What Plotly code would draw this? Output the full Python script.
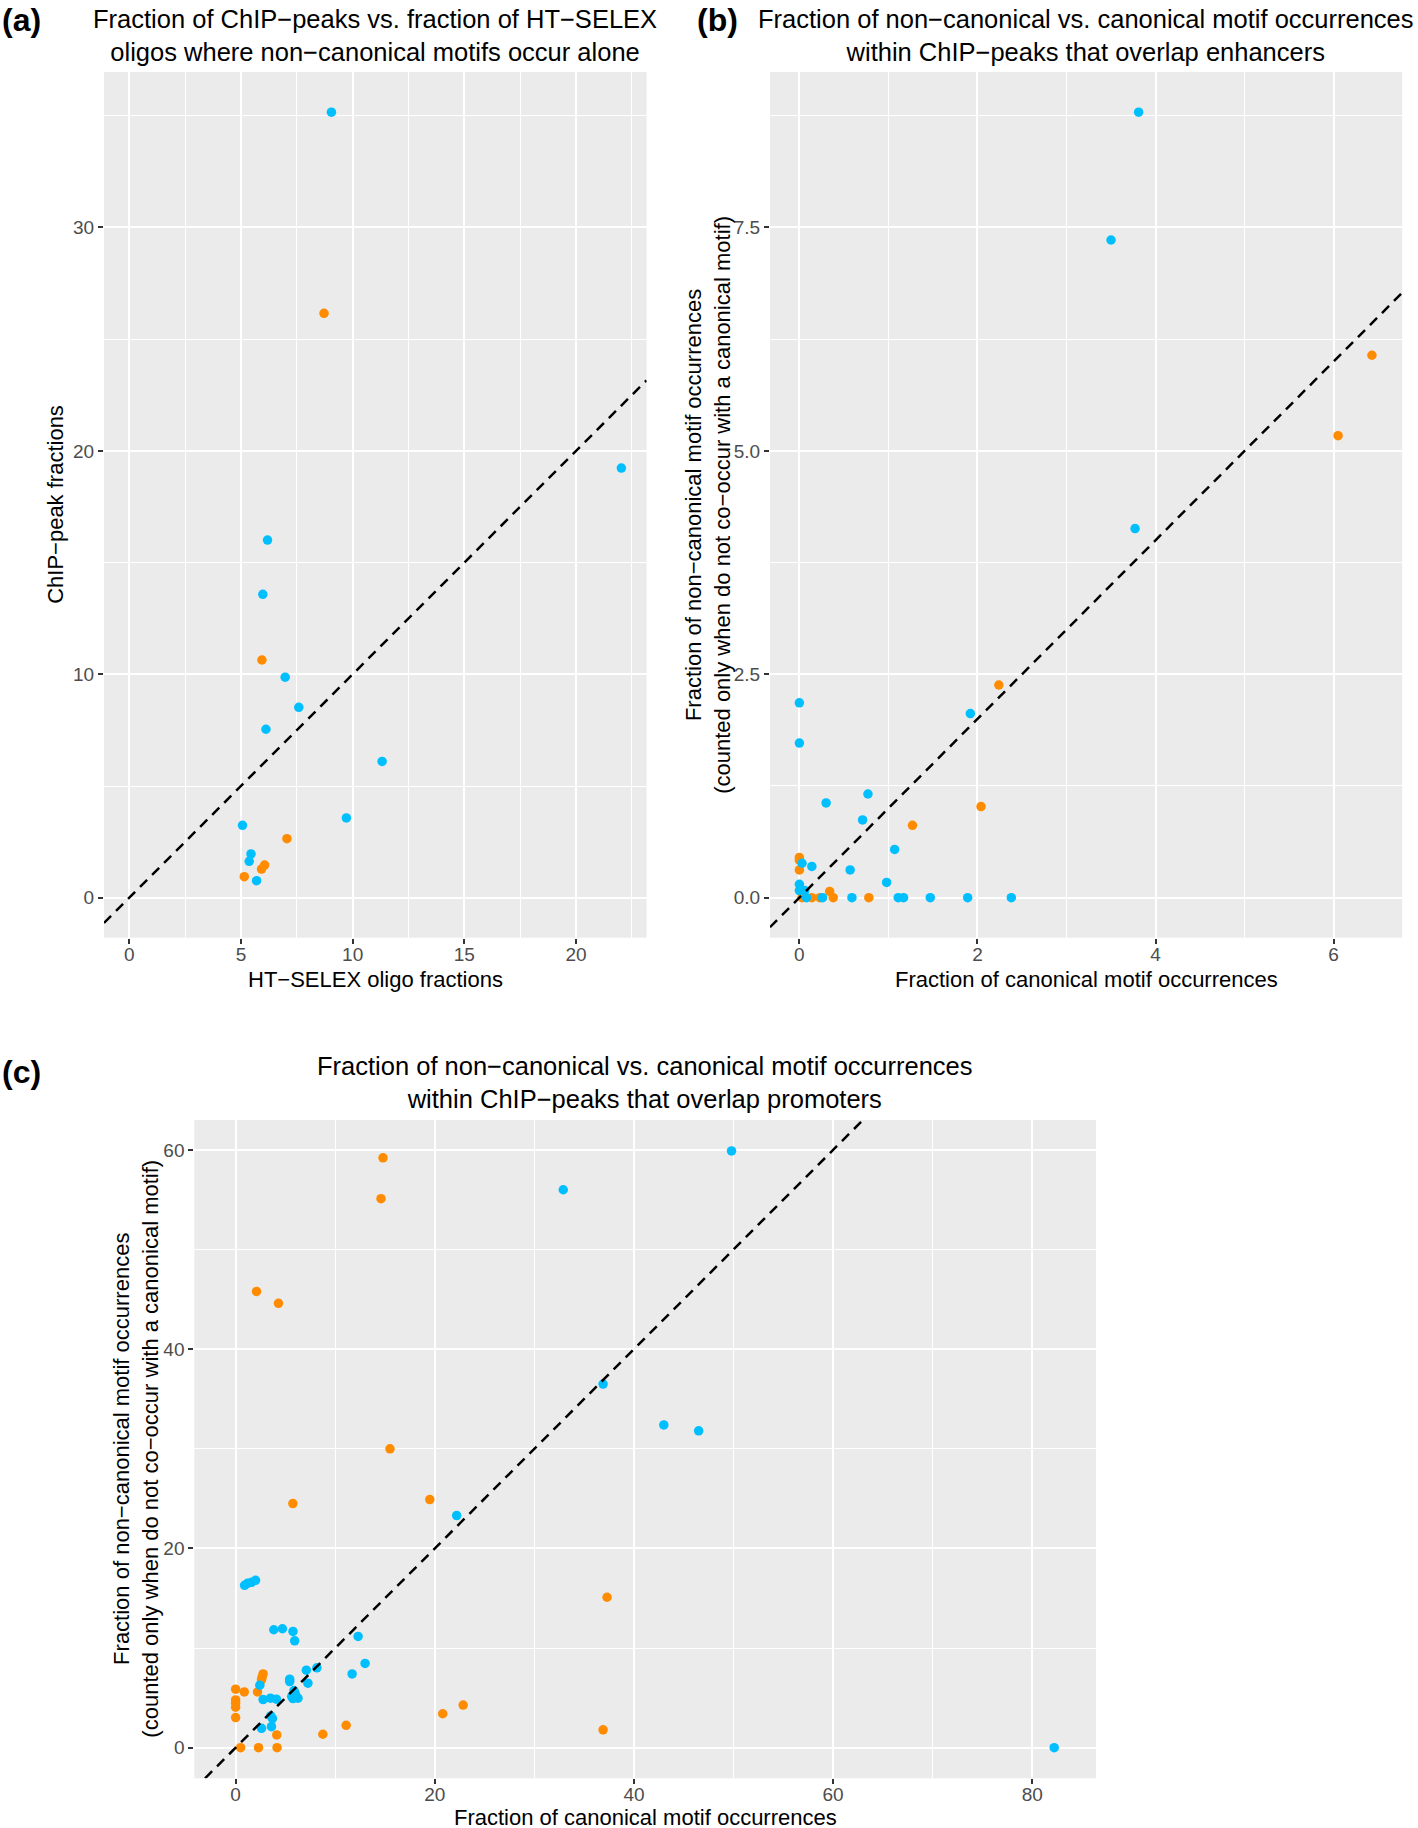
import plotly.graph_objects as go

W, H = 1418, 1828
FONT = "Liberation Sans, Arial, Helvetica, sans-serif"
BLUE = "#00BFFF"
ORANGE = "#FF8C00"

# ---------------- Panel (a) data ----------------
a_blue_x = [9.05, 22.03, 6.19, 5.98, 6.98, 7.59, 6.12, 11.32, 9.72, 5.07, 5.45, 5.37, 5.70]
a_blue_y = [35.16, 19.23, 16.01, 13.58, 9.87, 8.52, 7.54, 6.10, 3.57, 3.24, 1.96, 1.63, 0.76]
a_orange_x = [8.72, 5.94, 7.06, 6.06, 5.92, 5.15]
a_orange_y = [26.16, 10.64, 2.64, 1.46, 1.28, 0.94]

# ---------------- Panel (b) data ----------------
b_blue_x = [3.81, 3.50, 3.77, 1.92, 0.00, 0.00, 0.77, 0.30, 0.71, 1.07, 0.03, 0.14, 0.57,
            0.98, 0.00, 0.00, 0.06, 0.08, 0.26, 0.59, 1.11, 1.17, 1.47, 1.89, 2.38]
b_blue_y = [8.79, 7.36, 4.13, 2.06, 2.18, 1.73, 1.16, 1.06, 0.87, 0.54, 0.385, 0.35, 0.31,
            0.17, 0.15, 0.08, 0.08, 0.00, 0.00, 0.00, 0.00, 0.00, 0.00, 0.00, 0.00]
b_orange_x = [6.43, 6.05, 2.24, 2.04, 1.27, 0.00, 0.00, 0.00, 0.34, 0.03, 0.14, 0.23, 0.38, 0.78]
b_orange_y = [6.07, 5.17, 2.38, 1.02, 0.81, 0.45, 0.42, 0.31, 0.07, 0.00, 0.00, 0.00, 0.00, 0.00]

# ---------------- Panel (c) data ----------------
c_blue_x = [49.8, 32.9, 36.9, 43.0, 46.5, 22.2, 0.9, 1.2, 1.6, 2.0, 3.83, 4.7, 5.76, 5.93,
            12.3, 13.0, 11.7, 8.16, 7.1, 7.26, 5.43, 5.43, 2.43, 2.76, 3.5, 4.1, 5.86, 6.0,
            5.63, 6.26, 5.76, 3.53, 3.7, 3.6, 2.6, 82.2]
c_blue_y = [59.9, 56.0, 36.5, 32.4, 31.8, 23.3, 16.3, 16.5, 16.6, 16.8, 11.84, 11.94, 11.67, 10.73,
            11.17, 8.46, 7.41, 8.02, 7.78, 6.48, 6.88, 6.64, 6.28, 4.83, 4.97, 4.87, 5.73, 5.4,
            5.13, 4.97, 4.93, 3.19, 2.92, 2.11, 1.95, 0.0]
c_orange_x = [14.8, 14.6, 2.1, 4.3, 15.5, 5.75, 19.5, 37.3, 2.76, 2.66, 2.6, 0.0, 0.87, 2.2,
              0.0, 0.0, 0.0, 0.0, 4.13, 8.76, 11.1, 20.8, 22.85, 36.9, 0.5, 2.3, 4.16]
c_orange_y = [59.2, 55.1, 45.8, 44.6, 30.0, 24.5, 24.9, 15.1, 7.41, 7.08, 6.81, 5.87, 5.6, 5.6,
              4.8, 4.47, 4.06, 3.02, 1.28, 1.35, 2.25, 3.41, 4.28, 1.8, 0.0, 0.0, 0.0]

# Axis ranges (ggplot default 5% expansion, limits including 0)
a_xrange = [-1.13, 23.16]
a_yrange = [-1.79, 36.96]
b_xrange = [-0.33, 6.77]
b_yrange = [-0.448, 9.24]
c_xrange = [-4.15, 86.4]
c_yrange = [-3.07, 63.0]

# Plot areas in pixels (left, right, top, bottom)
A_BOX = (104, 646.6, 72, 937.7)
B_BOX = (770, 1402.2, 72, 937.7)
C_BOX = (194.3, 1096, 1120, 1778.3)


def dom_x(box):
    return [box[0] / W, box[1] / W]


def dom_y(box):
    return [1 - box[3] / H, 1 - box[2] / H]


fig = go.Figure()

panels = [
    ("x", "y", a_blue_x, a_blue_y, a_orange_x, a_orange_y, a_xrange, a_yrange),
    ("x2", "y2", b_blue_x, b_blue_y, b_orange_x, b_orange_y, b_xrange, b_yrange),
    ("x3", "y3", c_blue_x, c_blue_y, c_orange_x, c_orange_y, c_xrange, c_yrange),
]

for xa, ya, bx, by, ox, oy, xr, yr in panels:
    fig.add_trace(go.Scatter(x=ox, y=oy, mode="markers", xaxis=xa, yaxis=ya,
                             marker=dict(color=ORANGE, size=9.5, line=dict(width=0)),
                             showlegend=False, hoverinfo="x+y"))
    fig.add_trace(go.Scatter(x=bx, y=by, mode="markers", xaxis=xa, yaxis=ya,
                             marker=dict(color=BLUE, size=9.5, line=dict(width=0)),
                             showlegend=False, hoverinfo="x+y"))
    lo = max(xr[0], yr[0])
    hi = min(xr[1], yr[1])
    fig.add_trace(go.Scatter(x=[lo, hi], y=[lo, hi], mode="lines", xaxis=xa, yaxis=ya,
                             line=dict(color="black", width=2.5, dash="10px,7px"),
                             showlegend=False, hoverinfo="skip"))

TICKFONT = dict(family=FONT, size=19, color="#4D4D4D")


def axis(domain, rng, dtick, minor, anchor, fmt=None, standoff=0):
    d = dict(domain=domain, range=rng, dtick=dtick, tick0=0, anchor=anchor,
             showgrid=True, gridcolor="white", gridwidth=2.2,
             minor=dict(dtick=minor, tick0=0, showgrid=True, gridcolor="white",
                        gridwidth=1.1, ticks=""),
             zeroline=False, showline=False, ticks="outside", ticklen=5,
             tickwidth=2, tickcolor="#333333", tickfont=TICKFONT, fixedrange=True,
             ticklabelstandoff=standoff)
    if fmt:
        d["tickformat"] = fmt
    return d


fig.update_layout(
    width=W, height=H, autosize=False,
    margin=dict(l=0, r=0, t=0, b=0),
    paper_bgcolor="white", plot_bgcolor="#EBEBEB",
    font=dict(family=FONT, color="black"),
    xaxis=axis(dom_x(A_BOX), a_xrange, 5, 2.5, "y", standoff=-6),
    yaxis=axis(dom_y(A_BOX), a_yrange, 10, 5, "x"),
    xaxis2=axis(dom_x(B_BOX), b_xrange, 2, 1, "y2", standoff=-6),
    yaxis2=axis(dom_y(B_BOX), b_yrange, 2.5, 1.25, "x2", fmt=".1f"),
    xaxis3=axis(dom_x(C_BOX), c_xrange, 20, 10, "y3", standoff=-6),
    yaxis3=axis(dom_y(C_BOX), c_yrange, 20, 10, "x3"),
)


def ann(text, xpx, ypx, size, angle=0, bold=False, xanchor="center"):
    t = f"<b>{text}</b>" if bold else text
    fig.add_annotation(text=t, x=xpx / W, y=1 - ypx / H, xref="paper", yref="paper",
                       xanchor=xanchor, yanchor="middle", showarrow=False,
                       textangle=angle, font=dict(family=FONT, size=size, color="black"))


TITLE = 25.5
AXT = 22

# Panel labels
ann("(a)", 0, 20, 32, bold=True, xanchor="left")
ann("(b)", 695, 20, 32, bold=True, xanchor="left")
ann("(c)", 0, 1072, 32, bold=True, xanchor="left")

# Titles
ann("Fraction of ChIP−peaks vs. fraction of HT−SELEX<br>oligos where non−canonical motifs occur alone",
    (A_BOX[0] + A_BOX[1]) / 2, 35, TITLE)
ann("Fraction of non−canonical vs. canonical motif occurrences<br>within ChIP−peaks that overlap enhancers",
    (B_BOX[0] + B_BOX[1]) / 2, 35, TITLE)
ann("Fraction of non−canonical vs. canonical motif occurrences<br>within ChIP−peaks that overlap promoters",
    (C_BOX[0] + C_BOX[1]) / 2, 1082.5, TITLE)

# Axis titles
ann("HT−SELEX oligo fractions", (A_BOX[0] + A_BOX[1]) / 2, 979, AXT)
ann("ChIP−peak fractions", 56, (A_BOX[2] + A_BOX[3]) / 2, AXT, angle=-90)
ann("Fraction of canonical motif occurrences", (B_BOX[0] + B_BOX[1]) / 2, 979, AXT)
ann("Fraction of non−canonical motif occurrences<br>(counted only when do not co−occur with a canonical motif)",
    708, (B_BOX[2] + B_BOX[3]) / 2, AXT, angle=-90)
ann("Fraction of canonical motif occurrences", (C_BOX[0] + C_BOX[1]) / 2, 1817, AXT)
ann("Fraction of non−canonical motif occurrences<br>(counted only when do not co−occur with a canonical motif)",
    136.5, (C_BOX[2] + C_BOX[3]) / 2, AXT, angle=-90)

fig.write_html("out.html", config={"displayModeBar": False},
               post_script="document.body.style.margin='0px';document.body.style.overflow='hidden';")
